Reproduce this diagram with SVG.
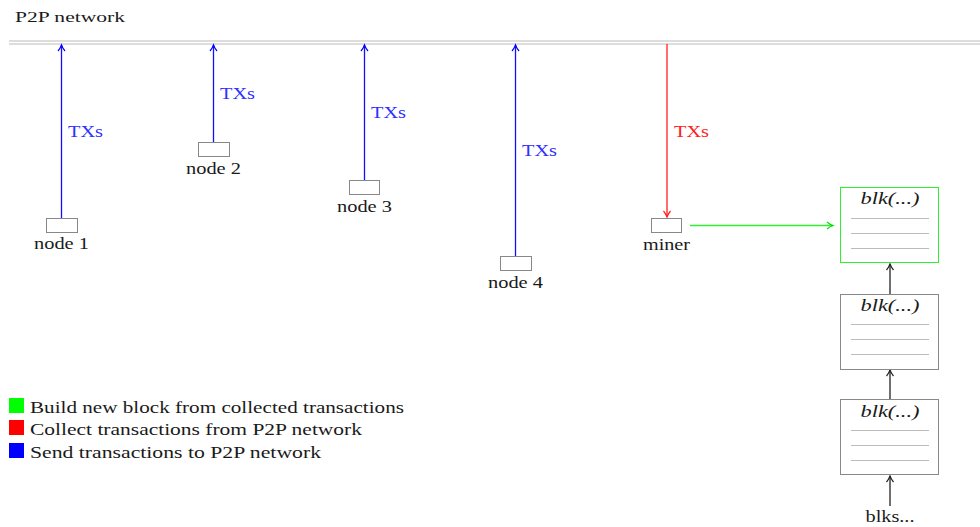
<svg xmlns="http://www.w3.org/2000/svg" width="980" height="527" viewBox="0 0 980 527" font-family="'Liberation Serif', serif">
<style>
text{font-family:"Liberation Serif",serif;fill:#1a1a1a;}
.lbl{font-size:16px;text-anchor:middle;}
.tx{font-size:16px;}
.node{fill:#fff;stroke:#888;stroke-width:1;}
.blk{fill:#fff;stroke:#888;stroke-width:1;}
.sep{stroke:#bbb;stroke-width:1;}
.bt{font-size:16px;font-style:italic;text-anchor:middle;}
.leg{font-size:16.5px;}
</style>
<defs>
<marker id="ab" markerWidth="10" markerHeight="10" refX="8" refY="5" orient="auto" markerUnits="userSpaceOnUse"><path d="M2,1.5 Q5,4 8,5 Q5,6 2,8.5" fill="none" stroke="#0000ff" stroke-width="1.2"/></marker>
<marker id="ar" markerWidth="10" markerHeight="10" refX="8" refY="5" orient="auto" markerUnits="userSpaceOnUse"><path d="M2,1.5 Q5,4 8,5 Q5,6 2,8.5" fill="none" stroke="#ff2020" stroke-width="1.2"/></marker>
<marker id="ag" markerWidth="10" markerHeight="10" refX="8" refY="5" orient="auto" markerUnits="userSpaceOnUse"><path d="M2,1.5 Q5,4 8,5 Q5,6 2,8.5" fill="none" stroke="#00e000" stroke-width="1.2"/></marker>
<marker id="ak" markerWidth="10" markerHeight="10" refX="8" refY="5" orient="auto" markerUnits="userSpaceOnUse"><path d="M2,1.5 Q5,4 8,5 Q5,6 2,8.5" fill="none" stroke="#222" stroke-width="1.2"/></marker>
</defs>
<g id="network">
<text x="15" y="22" style="font-size:14.5px" textLength="110" lengthAdjust="spacingAndGlyphs">P2P network</text>
<line x1="9" y1="41" x2="980" y2="41" stroke="#bbb" stroke-width="1"/>
<line x1="9" y1="44" x2="980" y2="44" stroke="#bbb" stroke-width="1"/>
</g>
<g id="connectors" fill="none">
<line x1="61.5" y1="218" x2="61.5" y2="45" stroke="#1010ff" stroke-width="1.3" marker-end="url(#ab)"/>
<line x1="213.5" y1="142" x2="213.5" y2="45" stroke="#1010ff" stroke-width="1.3" marker-end="url(#ab)"/>
<line x1="364.5" y1="180" x2="364.5" y2="45" stroke="#1010ff" stroke-width="1.3" marker-end="url(#ab)"/>
<line x1="515.5" y1="256" x2="515.5" y2="45" stroke="#1010ff" stroke-width="1.3" marker-end="url(#ab)"/>
<line x1="667" y1="44" x2="667" y2="217" stroke="#ff2020" stroke-width="1.3" marker-end="url(#ar)"/>
<line x1="690" y1="225.5" x2="833" y2="225.5" stroke="#30f030" stroke-width="1.3" marker-end="url(#ag)"/>
<line x1="890" y1="294" x2="890" y2="264" stroke="#222" stroke-width="1.3" marker-end="url(#ak)"/>
<line x1="890" y1="399" x2="890" y2="370" stroke="#222" stroke-width="1.3" marker-end="url(#ak)"/>
<line x1="890" y1="506" x2="890" y2="476" stroke="#222" stroke-width="1.3" marker-end="url(#ak)"/>
<text class="tx" x="68" y="137" style="fill:#3030ff" textLength="35" lengthAdjust="spacingAndGlyphs">TXs</text>
<text class="tx" x="220" y="99" style="fill:#3030ff" textLength="35" lengthAdjust="spacingAndGlyphs">TXs</text>
<text class="tx" x="371" y="118" style="fill:#3030ff" textLength="35" lengthAdjust="spacingAndGlyphs">TXs</text>
<text class="tx" x="522" y="156" style="fill:#3030ff" textLength="35" lengthAdjust="spacingAndGlyphs">TXs</text>
<text class="tx" x="674" y="137" style="fill:#ff2020" textLength="35" lengthAdjust="spacingAndGlyphs">TXs</text>
</g>
<g id="node1"><rect class="node" x="46.5" y="218.5" width="31" height="14"/><text class="lbl" x="61.5" y="249" textLength="55" lengthAdjust="spacingAndGlyphs">node 1</text></g>
<g id="node2"><rect class="node" x="198.5" y="142.5" width="31" height="14"/><text class="lbl" x="213.5" y="174" textLength="55" lengthAdjust="spacingAndGlyphs">node 2</text></g>
<g id="node3"><rect class="node" x="349.5" y="180.5" width="30" height="14"/><text class="lbl" x="364.5" y="212" textLength="55" lengthAdjust="spacingAndGlyphs">node 3</text></g>
<g id="node4"><rect class="node" x="500.5" y="256.5" width="31" height="14"/><text class="lbl" x="515.5" y="288" textLength="55" lengthAdjust="spacingAndGlyphs">node 4</text></g>
<g id="miner"><rect class="node" x="651.5" y="218.5" width="30" height="14"/><text class="lbl" x="666.5" y="250" textLength="47" lengthAdjust="spacingAndGlyphs">miner</text></g>
<g id="blk-new"><rect class="blk" x="840.5" y="187.5" width="98" height="75" style="stroke:#30f030"/><text class="bt" x="890" y="204" textLength="59" lengthAdjust="spacingAndGlyphs">blk(...)</text>
<line class="sep" x1="851" y1="218.5" x2="929" y2="218.5"/><line class="sep" x1="851" y1="233.5" x2="929" y2="233.5"/><line class="sep" x1="851" y1="248.5" x2="929" y2="248.5"/></g>
<g id="blk-2"><rect class="blk" x="840.5" y="294.5" width="98" height="75"/><text class="bt" x="890" y="311" textLength="59" lengthAdjust="spacingAndGlyphs">blk(...)</text>
<line class="sep" x1="851" y1="324.5" x2="929" y2="324.5"/><line class="sep" x1="851" y1="339.5" x2="929" y2="339.5"/><line class="sep" x1="851" y1="354.5" x2="929" y2="354.5"/></g>
<g id="blk-1"><rect class="blk" x="840.5" y="399.5" width="98" height="75"/><text class="bt" x="890" y="417" textLength="59" lengthAdjust="spacingAndGlyphs">blk(...)</text>
<line class="sep" x1="851" y1="430.5" x2="929" y2="430.5"/><line class="sep" x1="851" y1="445.5" x2="929" y2="445.5"/><line class="sep" x1="851" y1="460.5" x2="929" y2="460.5"/></g>
<g id="blks"><text class="lbl" x="890" y="522" textLength="49" lengthAdjust="spacingAndGlyphs">blks...</text></g>
<g id="legend">
<rect x="9" y="398" width="15" height="15" fill="#00ff00"/>
<rect x="9" y="420" width="15" height="15" fill="#ff0000"/>
<rect x="9" y="443" width="15" height="15" fill="#0000ff"/>
<text class="leg" x="30" y="413" textLength="374" lengthAdjust="spacingAndGlyphs">Build new block from collected transactions</text>
<text class="leg" x="30" y="435" textLength="332" lengthAdjust="spacingAndGlyphs">Collect transactions from P2P network</text>
<text class="leg" x="30" y="458" textLength="291" lengthAdjust="spacingAndGlyphs">Send transactions to P2P network</text>
</g>
</svg>
